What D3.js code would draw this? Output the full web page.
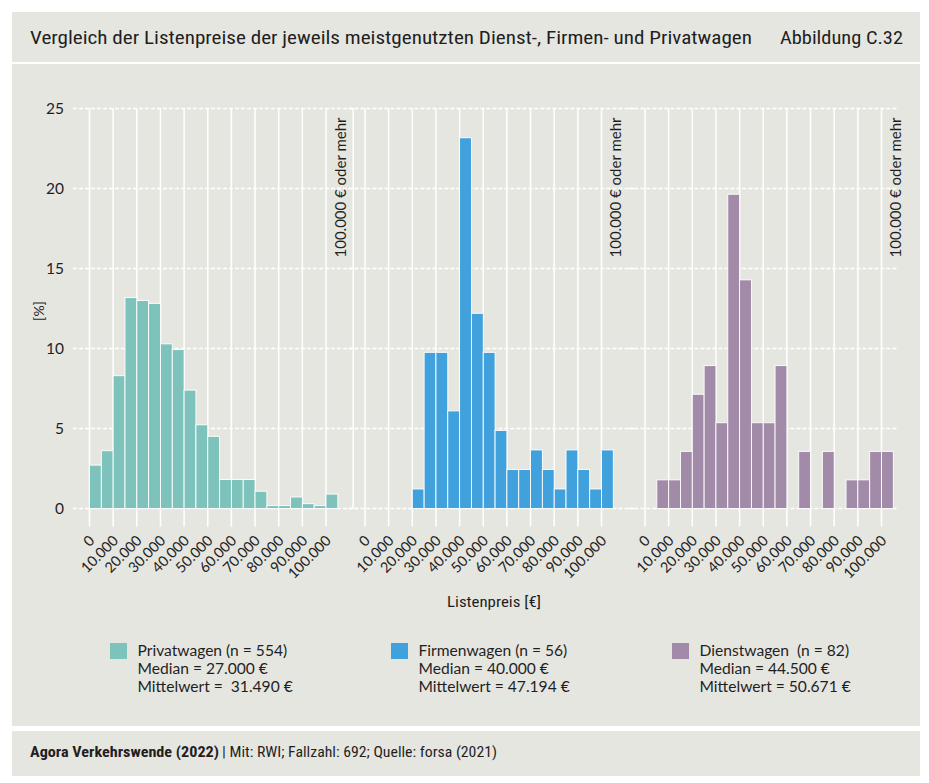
<!DOCTYPE html>
<html><head><meta charset="utf-8">
<script src="https://cdn.jsdelivr.net/npm/d3@7/dist/d3.min.js"></script>
<style>body{margin:0;background:#fff;} svg{display:block;}</style>
</head><body>
<script>
// ---- data ----
const binStarts = [0,5000,10000,15000,20000,25000,30000,35000,40000,45000,50000,55000,60000,65000,70000,75000,80000,85000,90000,95000,100000];
const binWidth = 5000;
const tickValues = [0,10000,20000,30000,40000,50000,60000,70000,80000,90000,100000];
const tickLabels = ["0","10.000","20.000","30.000","40.000","50.000","60.000","70.000","80.000","90.000","100.000"];
const yTicks = [0,5,10,15,20,25];
const seriesNames = ["Privatwagen","Firmenwagen","Dienstwagen"];
const privatwagen = [2.71,3.61,8.30,13.18,13.00,12.82,10.29,9.93,7.40,5.23,4.51,1.81,1.81,1.81,1.08,0.18,0.18,0.72,0.30,0.18,0.90];
const firmenwagen = [0,0,0,0,1.22,9.76,9.76,6.10,23.17,12.20,9.76,4.88,2.44,2.44,3.66,2.44,1.22,3.66,2.44,1.22,3.66];
const dienstwagen = [0,1.79,1.79,3.57,7.14,8.93,5.36,19.64,14.29,5.36,5.36,8.93,0,3.57,0,3.57,0,1.79,1.79,3.57,3.57];
const legendTitles = ["Privatwagen (n = 554)","Firmenwagen (n = 56)","Dienstwagen  (n = 82)"];
const legendMedians = ["Median = 27.000 €","Median = 40.000 €","Median = 44.500 €"];
const legendMeans = ["Mittelwert =  31.490 €","Mittelwert = 47.194 €","Mittelwert = 50.671 €"];
const overflowLabel = "100.000 € oder mehr";
const titleText = "Vergleich der Listenpreise der jeweils meistgenutzten Dienst-, Firmen- und Privatwagen";
const figureText = "Abbildung C.32";
const sourceBold = "Agora Verkehrswende (2022)";
const sourceRest = "| Mit: RWI; Fallzahl: 692; Quelle: forsa (2021)";
const xAxisTitle = "Listenpreis [€]";
const yAxisTitle = "[%]";

// ---- style / layout ----
const colors = ["#7dc3bc","#40a1dc","#a18ba9"];
const bg = "#e6e6e1";
const textCol = "#1f1f1f";
const roundFont = "Lato, 'Open Sans', sans-serif";
const condFont = "'Roboto Condensed','DejaVu Sans Condensed','Liberation Sans Narrow', Roboto, sans-serif";
const W = 929, H = 783;
const series = [privatwagen, firmenwagen, dienstwagen];
const panelX0 = [89.5, 365, 645];
const panelSpan = 236.5;
const panelExt = [[-7000,113000],[-7000,115000],[-7000,107000]];

const svg = d3.select("body").append("svg").attr("width", W).attr("height", H);
svg.append("rect").attr("x",12).attr("y",12).attr("width",908).attr("height",50).attr("fill",bg);
svg.append("rect").attr("x",12).attr("y",64).attr("width",908).attr("height",662).attr("fill",bg);
svg.append("rect").attr("x",12).attr("y",731).attr("width",908).attr("height",45).attr("fill",bg);

svg.append("text").attr("x",30).attr("y",44).attr("font-family",condFont).attr("font-size",18)
  .attr("fill",textCol).attr("textLength",722).attr("lengthAdjust","spacingAndGlyphs").text(titleText);
svg.append("text").attr("x",780).attr("y",44).attr("font-family",condFont).attr("font-size",18)
  .attr("fill",textCol).attr("textLength",123).attr("lengthAdjust","spacingAndGlyphs").text(figureText);

const y = d3.scaleLinear().domain([0,25]).range([508.5,108.5]);

series.forEach((vals, p) => {
  const x = d3.scaleLinear().domain([0,100000]).range([panelX0[p], panelX0[p]+panelSpan]);
  const g = svg.append("g");
  g.selectAll("line.h").data(yTicks).join("line")
    .attr("x1", x(panelExt[p][0])).attr("x2", x(panelExt[p][1]))
    .attr("y1", d => y(d)).attr("y2", d => y(d))
    .attr("stroke","#fff").attr("stroke-width",1.3).attr("stroke-dasharray","4,2");
  g.selectAll("line.v").data(tickValues).join("line")
    .attr("x1", d => x(d)).attr("x2", d => x(d))
    .attr("y1", y(25)).attr("y2", y(0)+18)
    .attr("stroke","#fff").attr("stroke-width",1.5);
  if (p === 0) {
    g.append("line").attr("x1", x(111500)).attr("x2", x(111500)).attr("y1", y(25)).attr("y2", y(0))
      .attr("stroke","#fff").attr("stroke-width",1.5);
  }
  g.selectAll("rect.bar").data(binStarts.map((b,i)=>({b, v: vals[i]})).filter(d=>d.v>0)).join("rect")
    .attr("x", d => x(d.b)).attr("width", d => x(d.b+binWidth)-x(d.b))
    .attr("y", d => y(d.v)).attr("height", d => y(0)-y(d.v))
    .attr("fill", colors[p]).attr("stroke","#fff").attr("stroke-width",0.9);
  g.selectAll("text.tl").data(tickValues).join("text")
    .attr("transform", (d) => `translate(${x(d)+6},${y(0)+33}) rotate(-45)`)
    .attr("text-anchor","end").attr("font-family",roundFont).attr("font-size",14.5).attr("fill",textCol)
    .text((d,i) => tickLabels[i]);
  g.append("text")
    .attr("transform", `translate(${x(108300)},${y(25)+9}) rotate(-90)`)
    .attr("text-anchor","end").attr("font-family",roundFont).attr("font-size",14.5).attr("fill",textCol)
    .attr("textLength",140).attr("lengthAdjust","spacingAndGlyphs")
    .text(overflowLabel);
});

svg.selectAll("text.yl").data(yTicks).join("text")
  .attr("x",64).attr("y", d => y(d)).attr("dy","0.35em").attr("text-anchor","end")
  .attr("font-family",roundFont).attr("font-size",15.5).attr("fill",textCol).text(d => d);
svg.append("text").attr("transform","translate(44,311) rotate(-90)").attr("text-anchor","middle")
  .attr("font-family",roundFont).attr("font-size",14).attr("fill",textCol).text(yAxisTitle);

svg.append("text").attr("x",494).attr("y",607).attr("text-anchor","middle")
  .attr("font-family",condFont).attr("font-size",15.5).attr("fill",textCol)
  .attr("textLength",94).attr("lengthAdjust","spacingAndGlyphs").text(xAxisTitle);

const legX = [110, 391, 672];
seriesNames.forEach((name, i) => {
  const g = svg.append("g").attr("transform", `translate(${legX[i]},643)`);
  g.append("rect").attr("width",17).attr("height",16).attr("fill",colors[i]);
  const lines = [legendTitles[i], legendMedians[i], legendMeans[i]];
  g.selectAll("text").data(lines).join("text")
    .attr("x",27.5).attr("y",(d,j)=>12.5+j*18.3).attr("xml:space","preserve").style("white-space","pre")
    .attr("font-family",roundFont).attr("font-size",15.6).attr("fill",textCol).text(d=>d);
});

svg.append("text").attr("x",30).attr("y",757).attr("font-family",condFont).attr("font-size",15)
  .attr("font-weight","bold").attr("fill",textCol)
  .attr("textLength",189).attr("lengthAdjust","spacingAndGlyphs").text(sourceBold);
svg.append("text").attr("x",222).attr("y",757).attr("font-family",condFont).attr("font-size",15)
  .attr("fill",textCol)
  .attr("textLength",275).attr("lengthAdjust","spacingAndGlyphs").text(sourceRest);
</script>
</body></html>
